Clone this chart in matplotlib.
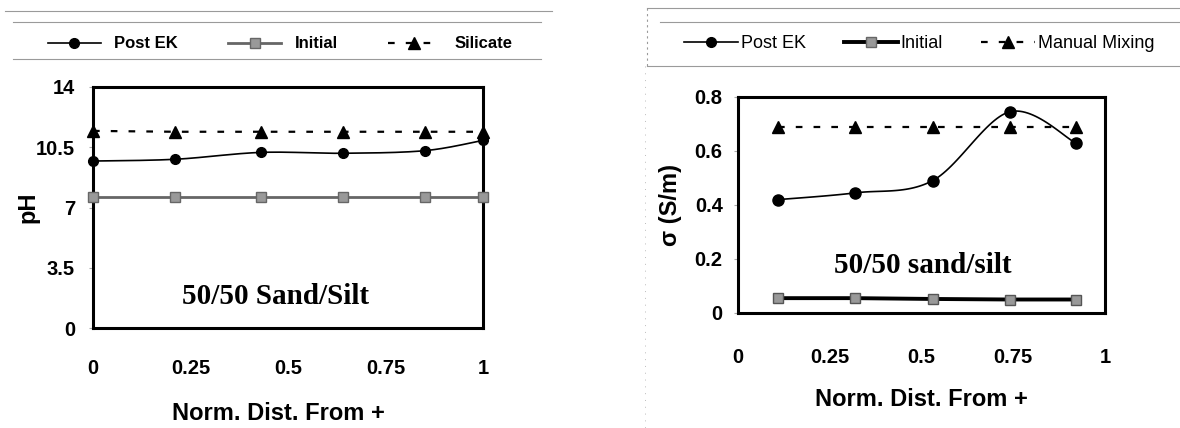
import numpy as np
import matplotlib
matplotlib.use("Agg")
import matplotlib.pyplot as plt
from matplotlib.lines import Line2D
from matplotlib.patches import Rectangle

# ---------------- data ----------------
x_left = [0.0, 0.21, 0.43, 0.64, 0.85, 1.0]
ph_post = [9.7, 9.8, 10.2, 10.15, 10.3, 10.9]
ph_init = [7.6, 7.6, 7.6, 7.6, 7.6, 7.6]
ph_sil = [11.45, 11.4, 11.4, 11.4, 11.4, 11.4]

x_right = [0.11, 0.32, 0.53, 0.74, 0.92]
sig_post = [0.42, 0.445, 0.49, 0.745, 0.63]
sig_init = [0.055, 0.055, 0.052, 0.05, 0.05]
sig_man = [0.69, 0.69, 0.69, 0.69, 0.69]

x_ticks = [0, 0.25, 0.5, 0.75, 1]
x_ticklabels = ["0", "0.25", "0.5", "0.75", "1"]
ph_ticks = [0, 3.5, 7, 10.5, 14]
ph_ticklabels = ["0", "3.5", "7", "10.5", "14"]
sig_ticks = [0, 0.2, 0.4, 0.6, 0.8]
sig_ticklabels = ["0", "0.2", "0.4", "0.6", "0.8"]

W, H = 1180, 428
fig = plt.figure(figsize=(W / 100, H / 100), dpi=100)
fig.patch.set_facecolor("white")

SANS = "Liberation Sans"
SERIF = "Liberation Serif"


def smooth(xs, ys, n=30):
    """Excel-like smoothed line (cubic Bezier with Catmull-Rom controls)."""
    P = np.column_stack([xs, ys]).astype(float)
    m = len(P)
    out = []
    for i in range(m - 1):
        p0 = P[i - 1] if i > 0 else P[i]
        p1 = P[i]
        p2 = P[i + 1]
        p3 = P[i + 2] if i + 2 < m else P[i + 1]
        c1 = p1 + (p2 - p0) / 6.0
        c2 = p2 - (p3 - p1) / 6.0
        t = np.linspace(0, 1, n)[:, None]
        seg = ((1 - t) ** 3) * p1 + 3 * ((1 - t) ** 2) * t * c1 + 3 * (1 - t) * t ** 2 * c2 + t ** 3 * p2
        out.append(seg if i == 0 else seg[1:])
    out = np.vstack(out)
    return out[:, 0], out[:, 1]


def px_axes(x0, x1, ytop, ybot):
    return fig.add_axes([x0 / W, 1 - ybot / H, (x1 - x0) / W, (ybot - ytop) / H])


def style_axes(ax, xpad, ypad):
    for s in ax.spines.values():
        s.set_linewidth(2.2)
        s.set_color("black")
    ax.tick_params(axis="x", length=0, pad=xpad)
    ax.tick_params(axis="y", length=3, width=0.8, color="#aaaaaa", pad=ypad)
    for lab in ax.get_xticklabels() + ax.get_yticklabels():
        lab.set_fontfamily(SANS)
        lab.set_fontweight("bold")
        lab.set_fontsize(14.5)


# ---------------- left panel ----------------
axL = px_axes(93, 483, 87, 328)
axL.set_xlim(0, 1)
axL.set_ylim(0, 14)
axL.set_xticks(x_ticks)
axL.set_xticklabels(x_ticklabels)
axL.set_yticks(ph_ticks)
axL.set_yticklabels(ph_ticklabels)

sx, sy = smooth(x_left, ph_post)
axL.plot(sx, sy, color="black", lw=1.2, clip_on=False, zorder=3)
axL.plot(x_left, ph_post, ls="none", marker="o", ms=7, color="black", clip_on=False, zorder=4)
axL.plot(x_left, ph_init, color="#666666", lw=2.0, marker="s", ms=7,
         mfc="#999999", mec="#666666", clip_on=False, zorder=3)
axL.plot(x_left, ph_sil, color="black", lw=1.6, ls=(0, (3, 5)), marker="^", ms=8,
         clip_on=False, zorder=3)
axL.text(0.467, 0.129, "50/50 Sand/Silt", transform=axL.transAxes, ha="center", va="center",
         fontfamily=SERIF, fontsize=21, fontweight="bold")
style_axes(axL, 22, 10)
axL.set_xlabel("Norm. Dist. From +", fontfamily=SANS, fontweight="bold", fontsize=17, va="center")
axL.xaxis.set_label_coords(0.475, (328 - 413) / 241)
axL.set_ylabel("pH", fontfamily=SANS, fontweight="bold", fontsize=17, va="center")
axL.yaxis.set_label_coords((28 - 93) / 390, 0.5)

# ---------------- right panel ----------------
axR = px_axes(738, 1105, 97, 313)
axR.set_xlim(0, 1)
axR.set_ylim(0, 0.8)
axR.set_xticks(x_ticks)
axR.set_xticklabels(x_ticklabels)
axR.set_yticks(sig_ticks)
axR.set_yticklabels(sig_ticklabels)

sx, sy = smooth(x_right, sig_post)
axR.plot(sx, sy, color="black", lw=1.2, zorder=3)
axR.plot(x_right, sig_post, ls="none", marker="o", ms=8, color="black", zorder=4)
axR.plot(x_right, sig_init, color="black", lw=2.8, marker="s", ms=7,
         mfc="#999999", mec="#555555", zorder=3)
axR.plot(x_right, sig_man, color="black", lw=1.6, ls=(0, (3, 5)), marker="^", ms=8, zorder=3)
axR.text(0.504, 0.218, "50/50 sand/silt", transform=axR.transAxes, ha="center", va="center",
         fontfamily=SERIF, fontsize=21, fontweight="bold")
style_axes(axR, 25, 8)
axR.set_xlabel("Norm. Dist. From +", fontfamily=SANS, fontweight="bold", fontsize=17, va="center")
axR.xaxis.set_label_coords(0.5, (313 - 399) / 216)
axR.set_ylabel("σ (S/m)", fontfamily=[SANS, "DejaVu Sans"], fontweight="bold", fontsize=17,
               va="center")
axR.yaxis.set_label_coords((670 - 738) / 367, 0.5)

# ---------------- legends ----------------
def handles(init_lw, init_color):
    h_post = Line2D([], [], color="black", lw=1.2, marker="o", ms=7)
    h_init = Line2D([], [], color=init_color, lw=init_lw, marker="s", ms=7,
                    mfc="#999999", mec="#666666")
    h_third = Line2D([], [], color="black", lw=1.6, ls=(0, (3, 5)), marker="^", ms=8)
    return [h_post, h_init, h_third]


legL = fig.legend(handles(2.0, "#666666"), ["Post EK", "Initial", "Silicate"],
                  loc="center", bbox_to_anchor=(280 / W, 1 - 44 / H), ncol=3, frameon=False,
                  numpoints=1, handlelength=3.2, handletextpad=0.8, columnspacing=3.0,
                  prop={"family": SANS, "weight": "bold", "size": 12})

legR = fig.legend(handles(2.8, "black"), ["Post EK", "Initial", "Manual Mixing"],
                  loc="center", bbox_to_anchor=(919 / W, 1 - 44 / H), ncol=3, frameon=False,
                  numpoints=1, handlelength=3.0, handletextpad=0.15, columnspacing=2.1,
                  prop={"family": SANS, "size": 13})

# faint scan frame lines around the legends
def fig_line(x0, y0, x1, y1, **kw):
    fig.add_artist(Line2D([x0 / W, x1 / W], [1 - y0 / H, 1 - y1 / H],
                          transform=fig.transFigure, **kw))

kw = dict(color="#9a9a9a", lw=0.8)
fig_line(5, 11, 552, 11, **kw)
fig_line(13, 22, 541, 22, **kw)
fig_line(13, 59, 541, 59, **kw)
fig_line(647, 8, 1180, 8, **kw)
fig_line(660, 22, 1180, 22, **kw)
fig_line(647, 66, 1180, 66, **kw)
fig_line(647, 8, 647, 66, ls=(0, (2, 3)), **kw)
fig_line(645, 66, 645, 428, ls=(0, (1, 6)), color="#bbbbbb", lw=0.7)

fig.savefig("out.png", dpi=100, facecolor="white")
